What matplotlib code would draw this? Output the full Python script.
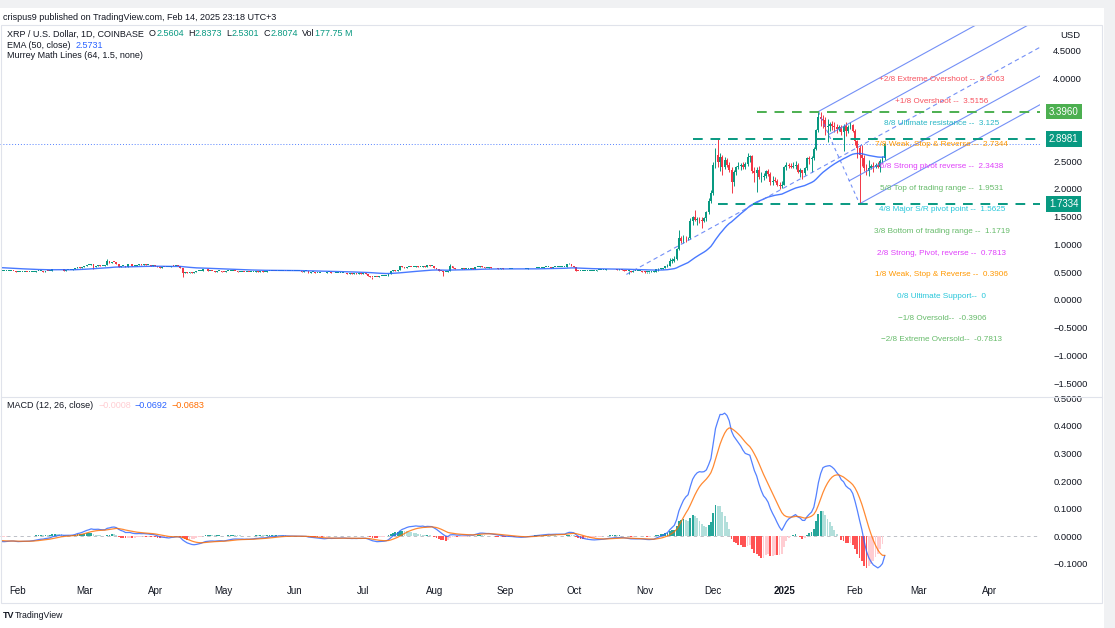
import numpy as np
import pandas as pd
import matplotlib
matplotlib.use("Agg")
import matplotlib.pyplot as plt
from matplotlib.patches import Rectangle
from matplotlib.lines import Line2D
from matplotlib.transforms import blended_transform_factory

plt.rcParams['font.family'] = ['Liberation Sans', 'DejaVu Sans']

W, H = 1115, 628
ORIGIN = pd.Timestamp("2024-02-01")

# daily closes before the visible range (only used to warm up EMA / MACD)
warmup_dec23 = [0.61, 0.62, 0.62, 0.63, 0.62, 0.62, 0.63, 0.67, 0.67, 0.66,
                0.61, 0.62, 0.61, 0.64, 0.62, 0.62, 0.61, 0.60, 0.61, 0.62,
                0.62, 0.63, 0.63, 0.64, 0.63, 0.62, 0.64, 0.63, 0.62, 0.62, 0.62]
warmup_jan24 = [0.63, 0.62, 0.57, 0.58, 0.58, 0.57, 0.57, 0.58, 0.57, 0.57,
                0.59, 0.57, 0.57, 0.57, 0.56, 0.57, 0.57, 0.55, 0.55, 0.56,
                0.55, 0.53, 0.52, 0.52]

# visible daily closes, XRP/USD COINBASE
close_jan24 = [0.52, 0.52, 0.53, 0.53, 0.53, 0.52, 0.50]
close_feb24 = [0.50, 0.51, 0.51, 0.51, 0.50, 0.50, 0.51, 0.51, 0.52, 0.52,
               0.52, 0.51, 0.53, 0.52, 0.53, 0.56, 0.55, 0.55, 0.55, 0.55,
               0.53, 0.54, 0.54, 0.54, 0.55, 0.57, 0.59, 0.58, 0.60]
close_mar24 = [0.62, 0.63, 0.63, 0.65, 0.60, 0.62, 0.63, 0.61, 0.62, 0.63,
               0.70, 0.67, 0.69, 0.68, 0.65, 0.60, 0.61, 0.62, 0.59, 0.64,
               0.64, 0.61, 0.62, 0.63, 0.64, 0.63, 0.64, 0.63, 0.63, 0.62, 0.63]
close_apr24 = [0.61, 0.59, 0.58, 0.60, 0.59, 0.59, 0.59, 0.62, 0.61, 0.62,
               0.61, 0.57, 0.49, 0.50, 0.49, 0.50, 0.49, 0.50, 0.52, 0.53,
               0.53, 0.55, 0.55, 0.53, 0.53, 0.52, 0.51, 0.52, 0.52, 0.51]
close_may24 = [0.50, 0.52, 0.53, 0.53, 0.53, 0.52, 0.51, 0.51, 0.51, 0.50,
               0.51, 0.50, 0.51, 0.51, 0.52, 0.51, 0.52, 0.51, 0.51, 0.53,
               0.53, 0.53, 0.52, 0.53, 0.53, 0.53, 0.53, 0.52, 0.52, 0.52, 0.52]
close_jun24 = [0.52, 0.52, 0.52, 0.51, 0.52, 0.52, 0.49, 0.50, 0.50, 0.49,
               0.49, 0.49, 0.48, 0.48, 0.50, 0.50, 0.48, 0.49, 0.49, 0.49,
               0.49, 0.49, 0.48, 0.47, 0.48, 0.47, 0.48, 0.47, 0.48, 0.47]
close_jul24 = [0.48, 0.47, 0.44, 0.42, 0.41, 0.42, 0.41, 0.43, 0.43, 0.43,
               0.44, 0.47, 0.52, 0.54, 0.52, 0.54, 0.61, 0.59, 0.58, 0.60,
               0.60, 0.59, 0.60, 0.61, 0.59, 0.60, 0.62, 0.59, 0.63, 0.62, 0.62]
close_aug24 = [0.57, 0.56, 0.53, 0.52, 0.50, 0.50, 0.53, 0.62, 0.57, 0.56,
               0.55, 0.56, 0.57, 0.56, 0.56, 0.56, 0.57, 0.56, 0.60, 0.60,
               0.61, 0.59, 0.58, 0.58, 0.59, 0.57, 0.57, 0.57, 0.56, 0.57, 0.56]
close_sep24 = [0.55, 0.56, 0.56, 0.56, 0.55, 0.55, 0.55, 0.55, 0.56, 0.56,
               0.57, 0.57, 0.57, 0.58, 0.58, 0.58, 0.58, 0.59, 0.59, 0.59,
               0.58, 0.59, 0.59, 0.59, 0.59, 0.59, 0.59, 0.64, 0.64, 0.61]
close_oct24 = [0.60, 0.53, 0.52, 0.53, 0.53, 0.53, 0.53, 0.53, 0.53, 0.53,
               0.54, 0.54, 0.54, 0.54, 0.55, 0.55, 0.55, 0.55, 0.55, 0.54,
               0.55, 0.54, 0.53, 0.52, 0.52, 0.51, 0.52, 0.52, 0.52, 0.52, 0.51]
close_nov24 = [0.50, 0.50, 0.50, 0.51, 0.51, 0.55, 0.56, 0.56, 0.57, 0.61,
               0.61, 0.70, 0.70, 0.73, 0.91, 1.12, 1.07, 1.12, 1.11, 1.11,
               1.43, 1.49, 1.44, 1.45, 1.44, 1.42, 1.48, 1.58, 1.79, 1.92]
close_dec24 = [2.43, 2.62, 2.48, 2.58, 2.40, 2.53, 2.44, 2.34, 2.12, 2.31,
               2.40, 2.42, 2.43, 2.40, 2.45, 2.57, 2.60, 2.32, 2.29, 2.35,
               2.21, 2.22, 2.24, 2.33, 2.27, 2.13, 2.15, 2.14, 2.08, 2.06, 2.08]
close_jan25 = [2.39, 2.44, 2.42, 2.40, 2.42, 2.44, 2.30, 2.34, 2.28, 2.37,
               2.55, 2.54, 2.56, 2.72, 3.07, 3.30, 3.27, 3.24, 3.12, 3.14,
               3.17, 3.13, 3.12, 3.08, 3.11, 3.03, 3.13, 3.04, 3.12, 3.15, 3.05]
close_feb25 = [2.86, 2.74, 2.62, 2.56, 2.37, 2.33, 2.38, 2.41, 2.40, 2.43,
               2.40, 2.51, 2.5604, 2.8074]

# highs / lows for the volatile stretch (Nov 2024 onwards)
high_nov24 = [0.52, 0.51, 0.51, 0.52, 0.52, 0.56, 0.57, 0.57, 0.58, 0.62,
              0.65, 0.76, 0.75, 0.80, 0.93, 1.27, 1.15, 1.18, 1.16, 1.14,
              1.48, 1.52, 1.63, 1.50, 1.50, 1.50, 1.50, 1.60, 1.83, 1.98]
low_nov24 = [0.49, 0.49, 0.49, 0.50, 0.50, 0.51, 0.53, 0.55, 0.56, 0.57,
             0.60, 0.61, 0.66, 0.69, 0.72, 0.90, 1.02, 1.03, 1.05, 1.08,
             1.10, 1.35, 1.42, 1.36, 1.38, 1.30, 1.40, 1.43, 1.55, 1.75]
high_dec24 = [2.48, 2.73, 2.90, 2.65, 2.62, 2.58, 2.55, 2.48, 2.40, 2.35,
              2.42, 2.48, 2.47, 2.48, 2.48, 2.65, 2.62, 2.62, 2.40, 2.40,
              2.42, 2.30, 2.28, 2.35, 2.36, 2.30, 2.24, 2.21, 2.18, 2.12, 2.14]
low_dec24 = [1.90, 2.38, 2.40, 2.32, 2.25, 2.36, 2.40, 2.30, 1.93, 2.05,
             2.25, 2.36, 2.35, 2.36, 2.36, 2.42, 2.49, 2.28, 2.13, 1.95,
             2.18, 2.13, 2.17, 2.20, 2.24, 2.08, 2.08, 2.12, 2.06, 2.00, 2.02]
high_jan25 = [2.42, 2.48, 2.46, 2.47, 2.48, 2.50, 2.46, 2.37, 2.35, 2.40,
              2.58, 2.60, 2.59, 2.75, 3.09, 3.40, 3.38, 3.33, 3.30, 3.26,
              3.21, 3.22, 3.20, 3.17, 3.15, 3.16, 3.18, 3.21, 3.16, 3.20, 3.18]
low_jan25 = [2.07, 2.35, 2.38, 2.37, 2.37, 2.36, 2.28, 2.22, 2.18, 2.25,
             2.35, 2.45, 2.30, 2.53, 2.70, 3.03, 3.13, 3.10, 2.97, 2.85,
             3.05, 3.06, 3.03, 3.00, 3.05, 2.98, 2.68, 2.96, 3.00, 3.08, 3.02]
high_feb25 = [3.08, 2.88, 2.80, 2.80, 2.61, 2.45, 2.53, 2.45, 2.48, 2.46,
              2.48, 2.54, 2.60, 2.8373]
low_feb25 = [2.80, 2.55, 1.7334, 2.42, 2.33, 2.25, 2.24, 2.36, 2.30, 2.38,
             2.38, 2.30, 2.47, 2.5301]

# notable wicks in the quiet months: date -> (high, low)
wick_notes = {"2024-03-05": (None, 0.55), "2024-03-11": (0.745, None),
              "2024-04-13": (None, 0.42), "2024-07-05": (None, 0.38),
              "2024-08-05": (None, 0.43), "2024-08-08": (0.64, None),
              "2024-09-29": (0.66, None), "2024-10-25": (None, 0.47)}

# Murrey Math levels (label text, level, colour)
murrey_labels = ["+2/8 Extreme Overshoot --  3.9063", "+1/8 Overshoot --  3.5156",
                 "8/8 Ultimate resistance --  3.125", "7/8 Weak, Stop & Reverse --  2.7344",
                 "6/8 Strong pivot reverse --  2.3438", "5/8 Top of trading range --  1.9531",
                 "4/8 Major S/R pivot point --  1.5625", "3/8 Bottom of trading range --  1.1719",
                 "2/8 Strong, Pivot, reverse --  0.7813", "1/8 Weak, Stop & Reverse --  0.3906",
                 "0/8 Ultimate Support--  0", "\u22121/8 Oversold--  -0.3906",
                 "\u22122/8 Extreme Oversold--  -0.7813"]
murrey_levels = [3.9063, 3.5156, 3.125, 2.7344, 2.3438, 1.9531, 1.5625,
                 1.1719, 0.7813, 0.3906, 0.0, -0.3906, -0.7813]
murrey_colors = ["#F7525F", "#F7525F", "#26B5C4", "#FF9800", "#E040FB", "#66BB6A",
                 "#26C6DA", "#66BB6A", "#E040FB", "#FF9800", "#26C6DA", "#66BB6A", "#66BB6A"]
murrey_date = "2025-03-11"

# drawn horizontal levels
level_prices = [3.3960, 2.8981, 1.7334]
level_starts = ["2024-12-20", "2024-11-22", "2024-12-03"]
level_colors = ["#4CAF50", "#089981", "#089981"]

# pitchfork anchors
pf_dates = ["2024-10-24", "2025-01-16", "2025-02-03"]
pf_prices = [0.46, 3.396, 1.7334]

month_ticks = ["2024-02-01", "2024-03-01", "2024-04-01", "2024-05-01", "2024-06-01",
               "2024-07-01", "2024-08-01", "2024-09-01", "2024-10-01", "2024-11-01",
               "2024-12-01", "2025-01-01", "2025-02-01", "2025-03-01", "2025-04-01"]
month_labels = ["Feb", "Mar", "Apr", "May", "Jun", "Jul", "Aug", "Sep", "Oct",
                "Nov", "Dec", "2025", "Feb", "Mar", "Apr"]


def day(s):
    return (pd.Timestamp(s) - ORIGIN).days


months = [("2024-01-25", close_jan24), ("2024-02-01", close_feb24), ("2024-03-01", close_mar24),
          ("2024-04-01", close_apr24), ("2024-05-01", close_may24), ("2024-06-01", close_jun24),
          ("2024-07-01", close_jul24), ("2024-08-01", close_aug24), ("2024-09-01", close_sep24),
          ("2024-10-01", close_oct24), ("2024-11-01", close_nov24), ("2024-12-01", close_dec24),
          ("2025-01-01", close_jan25), ("2025-02-01", close_feb25)]
dates, close = [], []
for start, vals in months:
    dates += list(pd.date_range(start, periods=len(vals)))
    close += vals
close = np.array(close)
x = np.array([(d - ORIGIN).days for d in dates])

warm = np.array(warmup_dec23 + warmup_jan24)
opn = np.r_[warm[-1], close[:-1]]
hi = np.maximum(opn, close)
lo = np.minimum(opn, close)
act_hi = np.array(high_nov24 + high_dec24 + high_jan25 + high_feb25)
act_lo = np.array(low_nov24 + low_dec24 + low_jan25 + low_feb25)
k = len(act_hi)
hi[-k:] = np.maximum(act_hi, hi[-k:])
lo[-k:] = np.minimum(act_lo, lo[-k:])
for d, (h, l) in wick_notes.items():
    i = day(d) - x[0]
    if h is not None:
        hi[i] = h
    if l is not None:
        lo[i] = l

# indicators
allc = pd.Series(np.r_[warm, close])
ema50 = allc.ewm(span=50, adjust=False).mean().values[len(warm):]
macd_full = allc.ewm(span=12, adjust=False).mean() - allc.ewm(span=26, adjust=False).mean()
sig_full = macd_full.ewm(span=9, adjust=False).mean()
hist_full = (macd_full - sig_full).values
prev_full = np.r_[hist_full[0], hist_full[:-1]]
macd = macd_full.values[len(warm):]
sig = sig_full.values[len(warm):]
hist = hist_full[len(warm):]
hprev = prev_full[len(warm):]

UP, DOWN = "#089981", "#F23645"
DARK = "#131722"
XL = (-7.87, 446.9)


def fx(px):
    return px / W


def fy(py):
    return 1 - py / H


fig = plt.figure(figsize=(W / 100, H / 100), dpi=100)
fig.patch.set_facecolor("white")

# page decoration
fig.patches.append(Rectangle((0, fy(8)), 1, 8 / H, transform=fig.transFigure,
                             fc="#f0f1f3", ec="none", zorder=0))
fig.patches.append(Rectangle((fx(1104), 0), 11 / W, 1, transform=fig.transFigure,
                             fc="#f0f1f3", ec="none", zorder=0))
fig.patches.append(Rectangle((fx(1), fy(603)), fx(1102) - fx(1), fy(25) - fy(603),
                             transform=fig.transFigure, fill=False, ec="#e0e3eb", lw=0.8))
fig.add_artist(Line2D([fx(1), fx(1102)], [fy(397), fy(397)], color="#e0e3eb", lw=0.8))

ax = fig.add_axes([0, fy(396), 1040 / W, (396 - 26) / H])
axm = fig.add_axes([0, fy(578), 1040 / W, (578 - 398) / H])

for a in (ax, axm):
    a.set_facecolor("none")
    for sp in a.spines.values():
        sp.set_visible(False)
    a.set_xlim(*XL)
    a.yaxis.tick_right()
    a.tick_params(axis="y", length=0, pad=9.5, labelsize=6.8, colors=DARK)

# ---- main pane ----
ax.set_ylim(-1.730, 4.937)
ax.set_xticks([])
pt = np.arange(-1.5, 4.51, 0.5)
ax.set_yticks(pt)
# 3.0 and 3.5 sit under the price boxes on the scale
ax.set_yticklabels(["" if v in (3.0, 3.5) else f"{v:.4f}".replace("-", "\u2212") for v in pt])

up = close >= opn
cols = np.where(up, UP, DOWN)
ax.vlines(x, lo, hi, colors=cols, lw=0.7, zorder=3)
body = np.maximum(np.abs(close - opn), 0.014)
ax.bar(x, body, bottom=np.minimum(opn, close), width=0.8, color=cols, lw=0, zorder=4)

ax.plot(x, ema50, color="#2962FF", lw=1.0, alpha=0.85, zorder=5)

# last price dotted line
ax.axhline(close[-1], color="#2962FF", lw=0.7, ls=(0, (1, 2)), alpha=0.8, zorder=2)

# drawn horizontal levels
for p, s, c in zip(level_prices, level_starts, level_colors):
    ax.plot([day(s), XL[1]], [p, p], color=c, lw=1.4, ls=(0, (5, 4)), zorder=6)

# pitchfork
px = [day(d) for d in pf_dates]
pp = pf_prices
mx, my = (px[1] + px[2]) / 2, (pp[1] + pp[2]) / 2
slope = (my - pp[0]) / (mx - px[0])
pf_kw = dict(color="#5B7CF5", lw=0.8, alpha=0.85, zorder=5)


def ray(x0, y0, **kw):
    ax.plot([x0, XL[1]], [y0, y0 + slope * (XL[1] - x0)], **kw)


ray(px[0], pp[0], ls=(0, (4, 3)), **pf_kw)
for f in (0.0, 0.25, 0.75, 1.0):
    ray(px[1] + f * (px[2] - px[1]), pp[1] + f * (pp[2] - pp[1]), **pf_kw)
ax.plot([px[1], px[2]], [pp[1], pp[2]], ls=(0, (3, 3)), **pf_kw)

# Murrey Math labels
for lab, lev, c in zip(murrey_labels, murrey_levels, murrey_colors):
    ax.text(day(murrey_date), lev, lab, ha="center", va="bottom", fontsize=5.9,
            color=c, zorder=7)

# price boxes on the scale
tr = blended_transform_factory(ax.transAxes, ax.transData)
for p, c in zip(level_prices, level_colors):
    ax.text(1.0 + 9 / 1040, p, f"{p:.4f}", transform=tr, ha="left", va="center",
            fontsize=7, color="white", clip_on=False, zorder=10,
            bbox=dict(boxstyle="square,pad=0.3", fc=c, ec="none"))

# ---- MACD pane ----
axm.set_ylim(-0.1527, 0.5018)
mt = np.arange(-0.1, 0.51, 0.1)
axm.set_yticks(mt)
axm.set_yticklabels([f"{v:.4f}".replace("-", "\u2212") for v in mt])
axm.axhline(0, color="#B2B5BE", lw=0.6, ls=(0, (4, 4)), zorder=1)

hcols = np.where(hist >= 0, np.where(hist >= hprev, "#26A69A", "#B2DFDB"),
                 np.where(hist < hprev, "#FF5252", "#FFCDD2"))
axm.bar(x, hist, width=0.8, color=hcols, lw=0, zorder=2)
axm.plot(x, macd, color="#2962FF", lw=0.9, alpha=0.8, zorder=3)
axm.plot(x, sig, color="#FF6D00", lw=0.9, alpha=0.8, zorder=3)

axm.set_xticks([day(d) for d in month_ticks])
axm.set_xticklabels(month_labels)
axm.tick_params(axis="x", length=0, pad=6, labelsize=7, colors=DARK)
for t in axm.get_xticklabels():
    if t.get_text() == "2025":
        t.set_fontweight("bold")

# ---- header texts ----
renderer = fig.canvas.get_renderer()


def chain(x0, y0, pieces, size=6.5):
    xp = x0
    for txt, c, gap in pieces:
        t = fig.text(fx(xp), fy(y0), txt, fontsize=size, color=c, va="center", ha="left")
        xp += t.get_window_extent(renderer).width + gap


fig.text(fx(3), fy(18), "crispus9 published on TradingView.com, Feb 14, 2025 23:18 UTC+3",
         fontsize=6.5, color=DARK, va="center")
chain(7, 34, [("XRP / U.S. Dollar, 1D, COINBASE", DARK, 5), ("O", DARK, 0.5),
              ("2.5604", UP, 4), ("H", DARK, 0.5), ("2.8373", UP, 4), ("L", DARK, 0.5),
              ("2.5301", UP, 4), ("C", DARK, 0.5), ("2.8074", UP, 4), ("Vol", DARK, 0.5),
              ("177.75 M", UP, 0)])
chain(7, 45, [("EMA (50, close)", DARK, 5), ("2.5731", "#2962FF", 0)])
chain(7, 56, [("Murrey Math Lines (64, 1.5, none)", DARK, 0)])
chain(7, 406, [("MACD (12, 26, close)", DARK, 5), ("\u22120.0008", "#FFCDD2", 4),
               ("\u22120.0692", "#2962FF", 4), ("\u22120.0683", "#FF6D00", 0)])

fig.text(fx(1060), fy(35), "USD", fontsize=6.8, color=DARK, va="center")
fig.text(fx(3), fy(615), "TV", fontsize=6.5, fontweight="bold", color=DARK, va="center")
fig.text(fx(15), fy(615), "TradingView", fontsize=6.3, color=DARK, va="center")

fig.savefig("out.png", dpi=100, facecolor="white")
